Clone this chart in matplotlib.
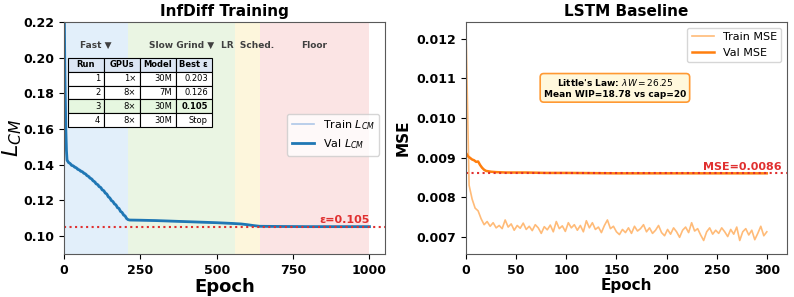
import numpy as np
import matplotlib.pyplot as plt

# --- InfDiff data ---
lcm_epochs = [0, 3, 6, 8, 10, 15, 20, 25, 30, 35, 40, 45, 50, 55, 60, 65, 70, 75, 80, 85, 90,
              95, 100, 105, 110, 115, 120, 125, 130, 135, 140, 145, 150, 155, 160, 165, 170,
              175, 180, 185, 190, 195, 200, 205, 210, 215, 250, 300, 350, 400, 450, 500, 550,
              580, 600, 620, 640, 700, 800, 900, 1000]
val_lcm = [0.240, 0.190, 0.160, 0.148, 0.1425, 0.1412, 0.1407, 0.1396, 0.1394, 0.1386, 0.1383,
           0.1374, 0.1371, 0.1363, 0.1361, 0.1352, 0.1349, 0.1339, 0.1335, 0.1325, 0.1321,
           0.1310, 0.1305, 0.1293, 0.1289, 0.1277, 0.1273, 0.1259, 0.1255, 0.1241, 0.1236,
           0.1220, 0.1214, 0.1199, 0.1194, 0.1180, 0.1175, 0.1159, 0.1155, 0.1138, 0.1133,
           0.1118, 0.1113, 0.1098, 0.1092, 0.1090, 0.1089, 0.1087, 0.1084, 0.1081, 0.1078,
           0.1075, 0.1071, 0.1068, 0.1064, 0.1059, 0.1055, 0.1054, 0.1053, 0.1053, 0.1053]
train_lcm = [0.245, 0.192, 0.161, 0.149, 0.1430, 0.1420, 0.1404, 0.1405, 0.1391, 0.1394, 0.1380,
             0.1383, 0.1368, 0.1372, 0.1358, 0.1360, 0.1346, 0.1347, 0.1332, 0.1334, 0.1318,
             0.1319, 0.1302, 0.1303, 0.1286, 0.1287, 0.1270, 0.1269, 0.1252, 0.1251, 0.1233,
             0.1230, 0.1211, 0.1209, 0.1191, 0.1190, 0.1172, 0.1168, 0.1152, 0.1147, 0.1130,
             0.1128, 0.1110, 0.1105, 0.1090, 0.1089, 0.1088, 0.1086, 0.1083, 0.1080, 0.1077,
             0.1074, 0.1070, 0.1067, 0.1063, 0.1058, 0.1054, 0.1053, 0.1052, 0.1052, 0.1052]
eps_best = 0.105

phases = [(0, 210, '#e2effa', 'Fast \u25BC'),
          (210, 560, '#eaf5e3', 'Slow Grind \u25BC'),
          (560, 640, '#fdf6dc', 'LR  Sched.'),
          (640, 1000, '#fbe4e4', 'Floor')]

table_cols = ['Run', 'GPUs', 'Model', 'Best \u03b5']
table_rows = [['1', '1\u00d7', '30M', '0.203'],
              ['2', '8\u00d7', '7M', '0.126'],
              ['3', '8\u00d7', '30M', '0.105'],
              ['4', '8\u00d7', '30M', 'Stop']]

# --- LSTM data (every 3 epochs) ---
train_mse = [0.01215, 0.00830, 0.00795, 0.00772, 0.00765, 0.00745, 0.00730, 0.00738, 0.00726,
             0.00735, 0.00722, 0.00728, 0.00720, 0.00742, 0.00724, 0.00732, 0.00716, 0.00728,
             0.00721, 0.00734, 0.00718, 0.00726, 0.00715, 0.00730, 0.00722, 0.00708, 0.00725,
             0.00717, 0.00729, 0.00712, 0.00738, 0.00720, 0.00727, 0.00713, 0.00735, 0.00722,
             0.00730, 0.00716, 0.00728, 0.00712, 0.00740, 0.00722, 0.00735, 0.00718, 0.00724,
             0.00710, 0.00728, 0.00742, 0.00720, 0.00726, 0.00712, 0.00705, 0.00718, 0.00710,
             0.00722, 0.00708, 0.00726, 0.00714, 0.00720, 0.00730, 0.00712, 0.00722, 0.00708,
             0.00716, 0.00728, 0.00710, 0.00702, 0.00718, 0.00706, 0.00722, 0.00712, 0.00698,
             0.00716, 0.00724, 0.00710, 0.00735, 0.00714, 0.00720, 0.00704, 0.00690, 0.00712,
             0.00722, 0.00706, 0.00716, 0.00708, 0.00722, 0.00712, 0.00700, 0.00718, 0.00706,
             0.00724, 0.00690, 0.00712, 0.00720, 0.00704, 0.00716, 0.00692, 0.00708, 0.00726,
             0.00702, 0.00712]
train_mse_epochs = np.arange(len(train_mse)) * 3
val_mse_epochs = [0, 2, 4, 6, 8, 10, 12, 14, 16, 18, 20, 25, 30, 40, 60, 80, 100, 150, 200, 250, 300]
val_mse = [0.00911, 0.00903, 0.00899, 0.00895, 0.00893, 0.00889, 0.00890, 0.00881, 0.00874,
           0.00869, 0.00866, 0.00864, 0.00863, 0.00862, 0.00862, 0.00861, 0.00861, 0.00860,
           0.00860, 0.00860, 0.00860]
mse_best = 0.0086

plt.rcParams['font.weight'] = 'bold'
plt.rcParams['axes.labelweight'] = 'bold'
plt.rcParams['axes.edgecolor'] = '0.35'
plt.rcParams['mathtext.fontset'] = 'custom'
plt.rcParams['mathtext.it'] = 'DejaVu Sans:italic:normal'
plt.rcParams['mathtext.rm'] = 'DejaVu Sans:normal'

fig = plt.figure(figsize=(7.94, 2.97), dpi=100)
ax1 = fig.add_axes([0.0806, 0.145, 0.404, 0.781])
ax2 = fig.add_axes([0.587, 0.145, 0.404, 0.781])

# left panel
for x0, x1, c, lab in phases:
    ax1.axvspan(x0, x1, color=c, zorder=0, lw=0)
    ax1.text((x0 + x1) / 2, 0.207, lab, ha='center', va='center', fontsize=6.5,
             color='0.25', fontweight='bold')
ax1.plot(lcm_epochs, train_lcm, color='#aec7e8', lw=1.2, label='Train $L_{CM}$')
ax1.plot(lcm_epochs, val_lcm, color='#1f77b4', lw=2, label='Val $L_{CM}$')
ax1.axhline(eps_best, color='#e03030', ls=':', lw=1.5)
ax1.text(1000, eps_best + 0.0012, '\u03b5=0.105', color='#e03030', ha='right', va='bottom',
         fontsize=8, fontweight='bold')
ax1.set_xlim(0, 1050)
ax1.set_ylim(0.09, 0.22)
ax1.set_xticks([0, 250, 500, 750, 1000])
ax1.set_yticks([0.10, 0.12, 0.14, 0.16, 0.18, 0.20, 0.22])
ax1.set_title('InfDiff Training', fontsize=11, fontweight='bold', pad=4)
ax1.set_xlabel('Epoch', fontsize=13, labelpad=1)
ax1.set_ylabel('$L_{CM}$', fontsize=16, fontweight='normal')
ax1.yaxis.set_label_coords(-0.125, 0.5)
ax1.tick_params(labelsize=9)
ax1.legend(loc='lower right', bbox_to_anchor=(1.0, 0.4), prop={'size': 8, 'weight': 'normal'})

tab = ax1.table(cellText=table_rows, colLabels=table_cols, bbox=[0.012, 0.547, 0.448, 0.298])
tab.auto_set_font_size(False)
tab.set_fontsize(6)
for (r, c), cell in tab.get_celld().items():
    cell.set_linewidth(0.8)
    if r == 0:
        cell.set_facecolor('#dce6f4')
        cell.get_text().set_fontweight('bold')
        cell.get_text().set_ha('center')
    else:
        cell.get_text().set_fontweight('normal')
        cell.get_text().set_ha('right')
        cell._loc = 'right'
        if r == 3:
            cell.set_facecolor('#e6f7e0')
tab[3, 3].get_text().set_fontweight('bold')

# right panel
ax2.plot(train_mse_epochs, train_mse, color='#ffbb78', lw=1.2, label='Train MSE')
ax2.plot(val_mse_epochs, val_mse, color='#ff7f0e', lw=1.8, label='Val MSE')
ax2.axhline(mse_best, color='#e03030', ls=':', lw=1.5)
ax2.text(315, mse_best + 0.00004, 'MSE=0.0086', color='#e03030', ha='right', va='bottom',
         fontsize=8, fontweight='bold')
ax2.text(0.464, 0.716, "Little's Law: $\\lambda W = 26.25$\nMean WIP=18.78 vs cap=20",
         transform=ax2.transAxes, ha='center', va='center', fontsize=6.5, fontweight='bold',
         bbox=dict(boxstyle='round,pad=0.4', fc='#fff8dc', ec='#ff9933', lw=1.2))
ax2.set_xlim(0, 320)
ax2.set_ylim(0.00656, 0.01243)
ax2.set_xticks([0, 50, 100, 150, 200, 250, 300])
ax2.set_yticks([0.007, 0.008, 0.009, 0.010, 0.011, 0.012])
ax2.set_title('LSTM Baseline', fontsize=11, fontweight='bold', pad=4)
ax2.set_xlabel('Epoch', fontsize=11, labelpad=1)
ax2.set_ylabel('MSE', fontsize=11)
ax2.tick_params(labelsize=9)
ax2.legend(loc='upper right', prop={'size': 8, 'weight': 'normal'})

fig.savefig('out.png', dpi=100)
